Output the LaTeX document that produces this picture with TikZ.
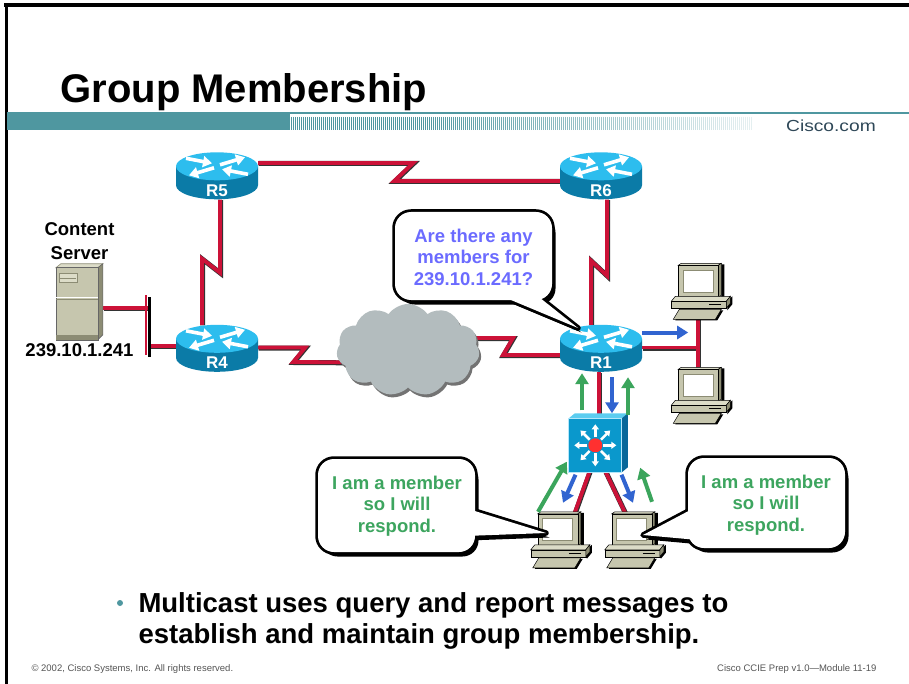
\documentclass[tikz,border=0pt]{standalone}
\usepackage{fontspec}
\setmainfont{Liberation Sans}
\usetikzlibrary{shapes.geometric, shapes.symbols, arrows.meta, calc, positioning}

\definecolor{linkred}{HTML}{CC1238}
\definecolor{barteal}{HTML}{4F97A0}
\definecolor{brandgray}{HTML}{2F4858}
\definecolor{querytext}{HTML}{6B6BFF}
\definecolor{membertext}{HTML}{3DA55F}
\definecolor{msgblue}{HTML}{3164D0}
\definecolor{msggreen}{HTML}{3BA55C}
\definecolor{routertop}{HTML}{2DBDEE}
\definecolor{routerside}{HTML}{0B7BA7}
\definecolor{switchfront}{HTML}{0A98CC}
\definecolor{switchtop}{HTML}{5CCDF0}
\definecolor{switchside}{HTML}{07679A}
\definecolor{beige}{HTML}{C6C6AE}
\definecolor{beigelight}{HTML}{DCDCC8}
\definecolor{beigedark}{HTML}{8C8C74}
\definecolor{cloudgray}{HTML}{B3BCBE}
\definecolor{footgray}{HTML}{555555}

\tikzstyle{wire} = [draw=linkred, line width=3.8pt, line join=miter, preaction={draw=black!80, line width=5pt, transform canvas={shift={(0.5pt,-0.5pt)}}}]
\tikzstyle{msg} = [line width=4pt, -{Triangle[width=13pt,length=11pt]}]
\tikzstyle{query} = [msg, draw=msgblue]
\tikzstyle{report} = [msg, draw=msggreen]
\tikzstyle{routerbox} = [inner sep=0pt, minimum width=82, minimum height=47]
\tikzstyle{pcbox} = [inner sep=0pt, minimum width=62, minimum height=56]
\tikzstyle{routername} = [text=white, font=\bfseries\fontsize{17}{20}\selectfont]
\tikzstyle{bubble} = [font=\bfseries\fontsize{18.5}{21.5}\selectfont, align=center]
\tikzstyle{balloon} = [rounded corners=16pt]
\tikzstyle{cloudshape} = [cloud, cloud puffs=11, cloud puff arc=110, aspect=1.55, inner sep=0pt, minimum width=143, minimum height=92]
\tikzstyle{part} = [draw=black, line width=0.5pt]

\tikzset{
  router/.pic={
    \fill[routerside] (-41,0) -- (-41,19) arc[start angle=180, end angle=360, x radius=41pt, y radius=14pt] -- (41,0) -- cycle;
    \fill[routertop] (0,0) ellipse [x radius=41pt, y radius=14pt];
    \begin{scope}[white, line width=3.6pt, -{Triangle[width=11pt,length=9pt]}]
      \draw (3,-1.5) -- (28,-9);
      \draw (-3,1.5) -- (-28,9);
      \draw (-31,-8) -- (-5,-3);
      \draw (31,8) -- (5,3);
    \end{scope}
    \node[routername] at (0,24) {#1};
  },
  l3switch/.pic={
    \fill[switchtop] (0,0) -- (6,-5) -- (59,-5) -- (53,0) -- cycle;
    \fill[switchside] (53,0) -- (59,-5) -- (59,49) -- (53,54) -- cycle;
    \fill[switchfront] (0,0) rectangle (53,54);
    \draw[cyan!30, line width=0.8pt] (0,0) rectangle (53,54);
    \foreach \a in {0,45,...,315}
      \draw[white, line width=2.6pt, -{Triangle[width=7pt,length=5pt]}] (26.5,27) ++(\a:8pt) -- ++(\a:13pt);
    \fill[red!75!pink] (26.5,27) circle (7pt);
  },
  pc/.pic={
    % monitor
    \fill[black] (50,1) -- (53,1) -- (53,33) -- (50,35) -- cycle;
    \filldraw[part, fill=beigelight] (7,2) -- (10,0) -- (50,0) -- (47,2) -- cycle;
    \filldraw[part, fill=beigedark] (47,2) -- (50,0) -- (50,32) -- (47,34) -- cycle;
    \filldraw[part, fill=beige] (7,2) rectangle (47,34);
    \filldraw[fill=white, draw=beigedark, line width=1pt] (12,7) rectangle (42,29);
    % base unit
    \fill[black] (56,38) -- (61,33) -- (61,41) -- (56,47) -- cycle;
    \filldraw[part, fill=beigelight] (0,38) -- (4,33) -- (59,33) -- (55,38) -- cycle;
    \filldraw[part, fill=beige] (0,38) rectangle (55,45);
    \filldraw[part, fill=beigedark] (55,38) -- (59,33) -- (59,40) -- (55,45) -- cycle;
    \draw[black, line width=0.8pt] (38,41.5) -- (50,41.5);
    % keyboard
    \fill[black] (4,57) -- (10,47) -- (52,47) -- (46,57) -- cycle;
    \filldraw[part, fill=beige] (2,56) -- (8,46) -- (50,46) -- (44,56) -- cycle;
  }
}

\begin{document}
\begin{tikzpicture}[x=1pt, y=-1pt]
\useasboundingbox (0,0) rectangle (909,684);
\fill[white] (0,0) rectangle (909,684);

% slide frame
\draw[line width=3.5pt] (4,5) -- (909,5);
\draw[line width=3pt] (6,5) -- (6,684);

% title and banner
\node (Title) [anchor=base west, font=\bfseries\fontsize{40}{48}\selectfont] at (57,103) {Group Membership};
\fill[barteal] (7,112) rectangle (909,114.5);
\fill[barteal] (7,112) rectangle (290,130);
\foreach \x [evaluate={\x as \op using max(0.15,min(1,1.35-(\x-290)/380))}] in {291,293,...,751}
  \draw[barteal, opacity=\op, line width=1pt] (\x,117) -- (\x,130);
\node (Brand) [anchor=base east, text=brandgray, font=\fontsize{16}{19}\selectfont, xscale=1.2, transform shape] at (880,132) {Cisco.com};

% placement of devices
\node (R5) [routerbox] at (217,176) {};
\node (R6) [routerbox] at (601,176) {};
\node (R4) [routerbox] at (217,348.5) {};
\node (R1) [routerbox] at (601,348.5) {};
\node (Server) [inner sep=0pt, minimum width=47, minimum height=76] at (79.5,302) {};
\node (L3) [inner sep=0pt, minimum size=53] at (595.5,445) {};
\node (PCa) [pcbox] at (562,540) {};
\node (PCb) [pcbox] at (636,540) {};
\node (PCc) [pcbox] at (702.5,291.5) {};
\node (PCd) [pcbox] at (702.5,395.5) {};
\coordinate (CloudAt) at (408,350);
\coordinate (LANtap) at (148,308);
\coordinate (LANr4) at (148,346);

% serial links
\draw[wire] ($(R5.east)+(0,-13)$) -- ++(155,0) -- ++(-19,18) -- ($(R6.west)+(0,5)$);
\draw[wire] ($(R5.south)+(3,0)$) -- ++(0,73) -- ++(-18,-14) -- ($(R4.north)+(-15,0)$);
\draw[wire] ($(R6.south)+(6,0)$) -- ++(0,76) -- ++(-16,-15) -- ($(R1.north)+(-10,0)$);
\draw[wire] ($(R4.east)+(0,-1)$) -- ++(47,0) -- ++(-12,14.5) -- ($(CloudAt)+(-30,12.5)$);
\draw[wire] ($(CloudAt)+(30,-12)$) -- ++(75,0) -- ++(-10,17) -- ($(R1.west)+(0,6.5)$);

% ethernet segments
\draw[wire] (Server.east |- LANtap) -- (LANtap);
\draw[wire] (LANr4) -- (R4.west |- LANr4);
\draw[linkred, line width=2.5pt] (146,295) -- (146,355);
\draw[black, line width=3pt] (149.5,297) -- (149.5,357);
\draw[wire] ($(R1.east)+(0,-1)$) -- ($(R1.east -| PCc.south)+(-4.5,-1)$);
\draw[wire] ($(PCc.south)+(-4.5,0)$) -- ($(PCd.north)+(-4.5,0)$);
\draw[wire] ($(R1.south)+(-2,0)$) -- ($(L3.north)+(3.5,-4)$);
\draw[wire] ($(L3.south)+(-6,0)$) -- ($(PCa.north)+(12,3)$);
\draw[wire] ($(L3.south)+(10,0)$) -- ($(PCb.north)+(-10,3)$);

% cloud
\node (CloudShade) [cloudshape, fill=black!55] at ($(CloudAt)+(2,3)$) {};
\node (Cloud) [cloudshape, fill=cloudgray] at (CloudAt) {};

% routers and switch
\pic at ($(R5.north)+(0,14)$) {router=R5};
\pic at ($(R6.north)+(0,14)$) {router=R6};
\pic at ($(R4.north)+(0,14)$) {router=R4};
\pic at ($(R1.north)+(0,14)$) {router=R1};
\pic at (L3.north west) {l3switch};

% content server tower
\begin{scope}[shift={(Server.north west)}]
  \filldraw[fill=beigelight, draw=beigedark, line width=0.6pt] (0,4) -- (5,0) -- (47,0) -- (42,4) -- cycle;
  \filldraw[fill=beigedark, draw=black!60, line width=0.6pt] (42,4) -- (47,0) -- (47,71) -- (42,76) -- cycle;
  \filldraw[fill=beige, draw=black!60, line width=0.6pt] (0,4) rectangle (42,76);
  \filldraw[fill=beigelight, draw=beigedark, line width=0.6pt] (3,10) rectangle (21,19);
  \draw[beigedark, line width=0.6pt] (4,14.5) -- (20,14.5);
  \draw[white, line width=1pt] (0,34) -- (42,34);
  \draw[beigedark, line width=0.6pt] (0,35) -- (42,35);
  \fill[beigedark] (0,71) rectangle (42,76);
\end{scope}
\node (ServerName) [above=1pt of Server, align=center, font=\bfseries\fontsize{18.5}{24}\selectfont] {Content\\Server};
\node (ServerIP) [below=0pt of Server, font=\bfseries\fontsize{18.5}{22}\selectfont] {239.10.1.241};

% hosts
\pic at (PCa.north west) {pc};
\pic at (PCb.north west) {pc};
\pic at (PCc.north west) {pc};
\pic at (PCd.north west) {pc};

% query and report messages
\draw[query] ($(R1.east)+(0,-16)$) -- ++(46,0);
\draw[query] ($(R1.south)+(11,5)$) -- ($(L3.north)+(16.5,-5)$);
\draw[report] ($(L3.north)+(-13.5,-8)$) -- ($(R1.south)+(-19,1)$);
\draw[report] ($(L3.north)+(32.5,-3)$) -- ($(R1.south)+(27,5)$);
\draw[report] ($(PCa.north)+(-24,0)$) -- ($(L3.south west)+(-2,-10)$);
\draw[query] ($(L3.south)+(-20,3)$) -- ($(PCa.north)+(1,-9)$);
\draw[query] ($(L3.south)+(26,3)$) -- ($(PCb.north)+(-3,-9)$);
\draw[report] ($(PCb.north)+(16,-10)$) -- ($(L3.south east)+(18,-4)$);

% query balloon on R1
\fill[black, balloon, shift={(3.5,4.5)}] (395,212) rectangle (552,300);
\fill[black, shift={(3.5,4.5)}] (487,290) -- (578,328) -- (530,290) -- cycle;
\draw[line width=5.5pt, balloon] (395,212) rectangle (552,300);
\draw[line width=5.5pt, line join=round] (487,290) -- (578,328) -- (530,290) -- cycle;
\fill[white, balloon] (395,212) rectangle (552,300);
\fill[white] (487,290) -- (578,328) -- (530,290) -- cycle;
\node (Query) [bubble, text=querytext] at (473.5,257) {Are there any\\members for\\239.10.1.241?};

% report balloon, left host
\fill[black, balloon, shift={(3.5,4.5)}] (318,459) rectangle (475,552);
\fill[black, shift={(3.5,4.5)}] (465,508) -- (546,533) -- (465,536) -- cycle;
\draw[line width=5.5pt, balloon] (318,459) rectangle (475,552);
\draw[line width=5.5pt, line join=round] (465,508) -- (546,533) -- (465,536) -- cycle;
\fill[white, balloon] (318,459) rectangle (475,552);
\fill[white] (465,508) -- (546,533) -- (465,536) -- cycle;
\node (ReportA) [bubble, text=membertext] at (397,506) {I am a member\\so I will\\respond.};

% report balloon, right host
\fill[black, balloon, shift={(3.5,4.5)}] (688,458) rectangle (845,548);
\fill[black, shift={(3.5,4.5)}] (698,506) -- (643,535) -- (698,540) -- cycle;
\draw[line width=5.5pt, balloon] (688,458) rectangle (845,548);
\draw[line width=5.5pt, line join=round] (698,506) -- (643,535) -- (698,540) -- cycle;
\fill[white, balloon] (688,458) rectangle (845,548);
\fill[white] (698,506) -- (643,535) -- (698,540) -- cycle;
\node (ReportB) [bubble, text=membertext] at (766,505) {I am a member\\so I will\\respond.};

% summary bullet
\fill[barteal] (120,603) circle (3pt);
\node (Summary) [anchor=base west, align=left, font=\bfseries\fontsize{27.5}{31}\selectfont] at (135,643) {Multicast uses query and report messages to\\establish and maintain group membership.};

% footer
\node (Copyright) [anchor=base west, text=footgray, font=\fontsize{9.5}{11}\selectfont] at (28,671) {© 2002, Cisco Systems, Inc. All rights reserved.};
\node (Module) [anchor=base east, text=footgray, font=\fontsize{9.5}{11}\selectfont] at (880,671) {Cisco CCIE Prep v1.0—Module 11-19};
\end{tikzpicture}
\end{document}
